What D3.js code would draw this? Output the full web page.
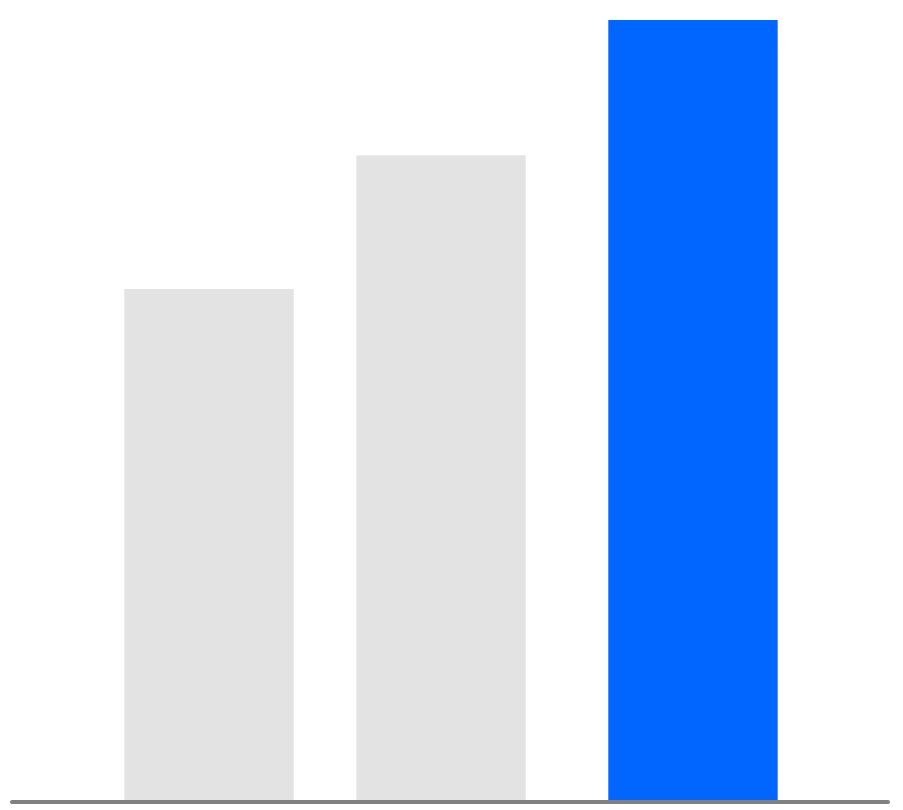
<!DOCTYPE html>
<meta charset="utf-8">
<html>
  <head>
    <script src="https://d3js.org/d3.v7.min.js"></script>
    <style>
      body { margin: 0; background: #fff; }
    </style>
  </head>
  <body>
    <script>
    // data
    const categories = ["A", "B", "C"];
    const values = [65.6, 82.7, 100];
    const highlighted = [false, false, true];

    const width = 903, height = 810;
    const highlightGap = 20;

    const svg = d3.select("body").append("svg")
      .attr("width", width)
      .attr("height", height);

    const x = d3.scaleBand()
      .domain(categories)
      .range([13, 869])
      .paddingInner(0.27)
      .paddingOuter(0.48);

    const y = d3.scaleLinear()
      .domain([0, 100])
      .range([802, 20]);

    const rows = categories.map((c, i) => ({cat: c, value: values[i], hi: highlighted[i]}));

    svg.selectAll("rect.bar")
      .data(rows)
      .join("rect")
        .attr("class", "bar")
        .attr("x", d => x(d.cat) + (d.hi ? highlightGap : 0))
        .attr("width", x.bandwidth())
        .attr("y", d => y(d.value))
        .attr("height", d => y(0) - y(d.value))
        .attr("fill", d => d.hi ? "#0066ff" : "#e3e3e3");

    // baseline
    svg.append("line")
      .attr("x1", 12)
      .attr("x2", x.range()[1] + highlightGap - 1)
      .attr("y1", y(0))
      .attr("y2", y(0))
      .attr("stroke", "#808080")
      .attr("stroke-width", 4)
      .attr("stroke-linecap", "round");
    </script>
  </body>
</html>
